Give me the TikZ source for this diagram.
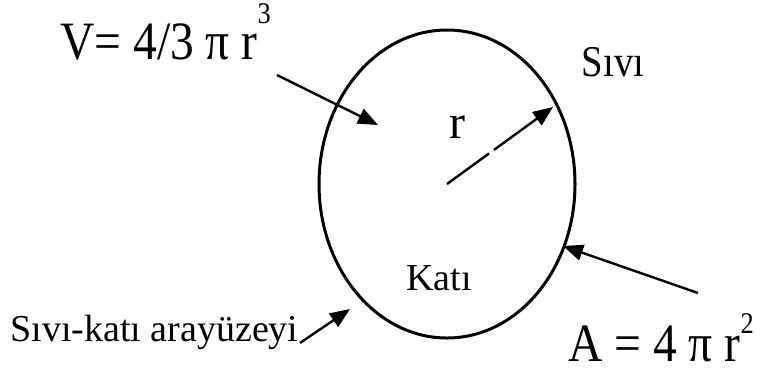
\documentclass[tikz,border=0pt]{standalone}
\usepackage{fontspec}
\setmainfont{Liberation Serif}
\newfontfamily\narrowserif[FakeStretch=0.88]{Liberation Serif}
\usetikzlibrary{arrows.meta,positioning}
\tikzset{
  pointer/.style={-{Triangle[length=10pt, width=8pt]}, line width=1.2pt},
  label text/.style={inner sep=0pt, font=\fontsize{19pt}{22pt}\selectfont},
  formula/.style={inner sep=0pt, font=\narrowserif\fontsize{27pt}{30pt}\selectfont},
}
\newcommand{\powr}[2]{\raisebox{#1}{\fontsize{15pt}{17pt}\selectfont #2}}

\begin{document}
\begin{tikzpicture}[x=0.5pt, y=-0.5pt]
  \useasboundingbox (0,0) rectangle (760,372);

  % Droplet
  \coordinate (c) at (447,184);
  \draw[line width=1.5pt] (c) ellipse [x radius=128, y radius=154];

  % Labels
  \node[formula, anchor=base west] (vol) at (60,59) {V= 4/3 π r\powr{18pt}{3}};
  \node[label text, font=\narrowserif\fontsize{22pt}{24pt}\selectfont] (liquid) at (613,62) {Sıvı};
  \node[formula, font=\fontsize{24pt}{26pt}\selectfont] (rad) at (457,127) {r};
  \node[label text] (solid) at (439,278) {Katı};
  \node[label text, anchor=base west] (iface) at (10,341) {Sıvı-katı arayüzeyi};
  \node[formula, anchor=base west] (area) at (568,361) {A = 4 π r\powr{14pt}{2}};

  % Arrow ends
  \coordinate (vtail) at (277,75);
  \coordinate (vtip) at (378,125);
  \coordinate (rtip) at (553,107);
  \coordinate (atail) at (698,293);
  \coordinate (atip) at (563,246);
  \coordinate (itail) at (300,343);
  \coordinate (itip) at (350,309);

  % Arrows
  \draw[pointer] (vtail) -- (vtip);
  \draw[pointer, dash pattern=on 26pt off 3pt on 200pt] (c) -- (rtip);
  \draw[pointer] (atail) -- (atip);
  \draw[pointer] (itail) -- (itip);
\end{tikzpicture}
\end{document}
